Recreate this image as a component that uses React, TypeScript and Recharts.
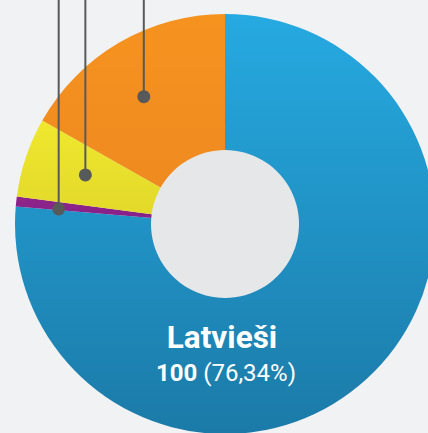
import React from 'react';
import { PieChart, Pie, Cell } from 'recharts';

const categories = ['Latvieši', 'Kategorija 2', 'Kategorija 3', 'Kategorija 4'];
const values = [100, 1, 8, 22];
const colorsTop = ['#26aae1', '#8e2489', '#efe82e', '#f6931f'];
const colorsBottom = ['#1b7aa8', '#86218a', '#e2d92a', '#ef8a20'];
const centerDisc = [{ name: 'center', value: 1 }];

const data = categories.map((name, i) => ({ name, value: values[i] }));
const total = values.reduce((a, b) => a + b, 0);

const RAD = Math.PI / 180;
const leaderRadius = [0, 167, 148, 151];
const leaderShift = [0, 1, -0.8, 2.3];
const lineColor = '#58595b';

function renderLabel(props: any) {
  const { cx, cy, midAngle, index } = props;
  const value = values[index];
  if (index === 0) {
    const pct = ((value / total) * 100).toFixed(2).replace('.', ',');
    return (
      <g>
        <text x={cx - 3} y={cy + 124} textAnchor="middle" fill="#ffffff" fontSize={31.5} fontWeight={700} fontFamily="Roboto">
          {categories[0]}
        </text>
        <text x={cx + 1} y={cy + 157} textAnchor="middle" fill="#ffffff" fontSize={24} fontFamily="Roboto">
          <tspan fontWeight={700}>{value}</tspan>
          <tspan fontWeight={400}> ({pct}%)</tspan>
        </text>
      </g>
    );
  }
  const a = (midAngle + leaderShift[index]) * RAD;
  const r = leaderRadius[index];
  const x = cx + r * Math.cos(a);
  const y = cy - r * Math.sin(a);
  return (
    <g>
      <line x1={x} y1={-20} x2={x} y2={y} stroke={lineColor} strokeWidth={2} />
      <circle cx={x} cy={y} r={6.5} fill={lineColor} />
    </g>
  );
}

export default function App() {
  return (
    <div style={{ position: 'absolute', left: 0, top: 0, width: 428, height: 433, background: '#f1f2f4', overflow: 'hidden' }}>
      <PieChart width={428} height={433} margin={{ top: 0, right: 0, bottom: 0, left: 0 }}>
        <defs>
          {categories.map((c, i) => (
            <linearGradient key={c} id={`g${i}`} x1="0" y1="0" x2="0" y2="1">
              <stop offset="0%" stopColor={colorsTop[i]} />
              <stop offset="100%" stopColor={colorsBottom[i]} />
            </linearGradient>
          ))}
        </defs>
        <Pie
          data={data}
          dataKey="value"
          nameKey="name"
          cx={225}
          cy={224}
          innerRadius={70}
          outerRadius={210}
          startAngle={90}
          endAngle={-270}
          stroke="none"
          isAnimationActive={false}
          label={renderLabel}
          labelLine={false}
        >
          {data.map((d, i) => (
            <Cell key={d.name} fill={`url(#g${i})`} stroke="none" />
          ))}
        </Pie>
        <Pie
          data={centerDisc}
          dataKey="value"
          cx={225}
          cy={224}
          innerRadius={0}
          outerRadius={74}
          stroke="none"
          fill="#e6e7e9"
          isAnimationActive={false}
        />
      </PieChart>
    </div>
  );
}
